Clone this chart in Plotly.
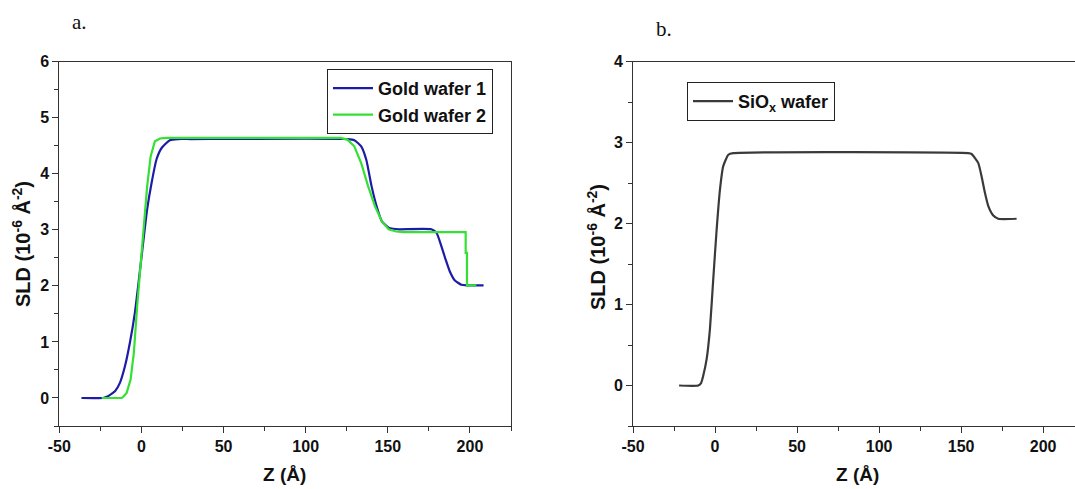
import plotly.graph_objects as go

# ---------------- data ----------------
z_gold1 = [-36.5, -23.4, -21.2, -16.1, -13.1, -10.0, -7.0, -4.0, -1.5, 1.1, 3.5, 6.2, 9.2, 12.3, 17.3,
           22.4, 30.0, 125.4, 129.6, 133.8, 136.9, 140.1, 143.2, 146.4, 150.5, 153.2, 156.8, 176.5,
           179.6, 182.6, 185.2, 187.7, 190.7, 194.8, 198.0, 208.3]
sld_gold1 = [0, 0, 0.02, 0.12, 0.27, 0.57, 0.99, 1.52, 2.12, 2.78, 3.37, 3.84, 4.26, 4.46, 4.60,
             4.62, 4.62, 4.62, 4.60, 4.49, 4.25, 3.78, 3.42, 3.15, 3.04, 3.02, 3.01, 3.01,
             2.95, 2.71, 2.47, 2.26, 2.10, 2.02, 2.01, 2.01]

z_gold2 = [-24.2, -12.0, -10.8, -9.0, -6.6, -4.6, -2.6, -0.5, 1.5, 3.5, 5.6, 8.2, 11.3, 15.0, 121.2,
           125.4, 129.6, 133.8, 138.0, 142.2, 146.4, 150.5, 155.0, 160.0, 197.4, 197.4, 198.2, 198.2, 203.9]
sld_gold2 = [0, 0, 0.03, 0.09, 0.33, 0.81, 1.64, 2.35, 3.07, 3.78, 4.31, 4.58, 4.63, 4.64, 4.64,
             4.61, 4.49, 4.19, 3.78, 3.42, 3.15, 3.01, 2.97, 2.96, 2.96, 2.59, 2.59, 2.01, 2.01]

z_siox = [-21.9, -10.2, -8.5, -7.2, -5.1, -3.1, -1.1, 1.0, 3.0, 5.0, 8.1, 11.1, 154.3, 156.4,
          160.4, 162.5, 164.5, 166.5, 169.6, 172.6, 183.8]
sld_siox = [0, 0, 0.03, 0.12, 0.33, 0.70, 1.31, 1.93, 2.42, 2.71, 2.85, 2.87, 2.87, 2.86,
            2.75, 2.58, 2.38, 2.22, 2.10, 2.06, 2.06]

x_tickvals = [-50, 0, 50, 100, 150, 200]
x_ticktext = ["-50", "0", "50", "100", "150", "200"]
x_minor = [-25, 25, 75, 125, 175, 225]
ya_tickvals = [0, 1, 2, 3, 4, 5, 6]
ya_minor = [-0.5, 0.5, 1.5, 2.5, 3.5, 4.5, 5.5]
yb_tickvals = [0, 1, 2, 3, 4]
yb_minor = [-0.5, 0.5, 1.5, 2.5, 3.5]

# ---------------- figure ----------------
W, H = 1075, 489
fig = go.Figure()

fig.add_trace(go.Scatter(x=z_gold1, y=sld_gold1, mode="lines", name="Gold wafer 1",
                         line=dict(color="#1c1ca6", width=2.2, shape="spline", smoothing=0.5),
                         xaxis="x", yaxis="y", legend="legend"))
fig.add_trace(go.Scatter(x=z_gold2, y=sld_gold2, mode="lines", name="Gold wafer 2",
                         line=dict(color="#33e033", width=2.2),
                         xaxis="x", yaxis="y", legend="legend"))
fig.add_trace(go.Scatter(x=z_siox, y=sld_siox, mode="lines", name="SiO<sub>x</sub> wafer",
                         line=dict(color="#3a3a3a", width=2.2, shape="spline", smoothing=0.5),
                         xaxis="x2", yaxis="y2", legend="legend2"))

y_dom = [(H - 426) / H, (H - 61.7) / H]
tickfont = dict(family="Liberation Sans, Arial, sans-serif", size=16, color="#111", weight="bold")
axcommon = dict(showgrid=False, zeroline=False, showline=True, linecolor="#333", linewidth=1,
                ticks="outside", ticklen=6, tickwidth=1, tickcolor="#333", tickfont=tickfont,
                automargin=False)

fig.update_layout(
    template="none",
    width=W, height=H,
    margin=dict(l=0, r=0, t=0, b=0, pad=0, autoexpand=False),
    paper_bgcolor="white", plot_bgcolor="white",
    showlegend=True,
    xaxis=dict(domain=[59.3 / W, 511 / W], range=[-50, 225], anchor="y", mirror=True,
               tickvals=x_tickvals, ticktext=x_ticktext,
               minor=dict(tickvals=x_minor, ticks="outside", ticklen=4, tickcolor="#333"),
               **axcommon),
    yaxis=dict(domain=y_dom, range=[-0.5, 6], anchor="x", mirror=True,
               tickvals=ya_tickvals,
               minor=dict(tickvals=ya_minor, ticks="outside", ticklen=4, tickcolor="#333"),
               **axcommon),
    xaxis2=dict(domain=[633 / W, 1.0], range=[-50, 219.4], anchor="y2", mirror=True,
                tickvals=x_tickvals, ticktext=x_ticktext,
                minor=dict(tickvals=x_minor, ticks="outside", ticklen=4, tickcolor="#333"),
                **axcommon),
    yaxis2=dict(domain=y_dom, range=[-0.5, 4], anchor="x2", mirror=False,
                tickvals=yb_tickvals,
                minor=dict(tickvals=yb_minor, ticks="outside", ticklen=4, tickcolor="#333"),
                **axcommon),
    legend=dict(x=327 / W, y=(H - 69) / H, xanchor="left", yanchor="top",
                bordercolor="#222", borderwidth=1, bgcolor="white",
                font=dict(family="Liberation Sans, Arial, sans-serif", size=18, color="#111", weight="bold"),
                tracegroupgap=0, itemwidth=40),
    legend2=dict(x=687 / W, y=(H - 82) / H, xanchor="left", yanchor="top",
                 bordercolor="#222", borderwidth=1, bgcolor="white",
                 font=dict(family="Liberation Sans, Arial, sans-serif", size=18, color="#111", weight="bold"),
                 itemwidth=40),
)

titlefont = dict(family="Liberation Sans, Arial, sans-serif", size=19, color="#111", weight="bold")
sldfont = dict(family="Liberation Sans, Arial, sans-serif", size=20, color="#111", weight="bold")
anns = [
    dict(text="Z (Å)", x=284 / W, y=(H - 474) / H, font=titlefont, textangle=0),
    dict(text="Z (Å)", x=857 / W, y=(H - 474) / H, font=titlefont, textangle=0),
    dict(text="SLD (10<sup>-6</sup> Å<sup>-2</sup>)", x=22 / W, y=(H - 244) / H, font=sldfont, textangle=-90),
    dict(text="SLD (10<sup>-6</sup> Å<sup>-2</sup>)", x=596 / W, y=(H - 247) / H, font=sldfont, textangle=-90),
    dict(text="a.", x=79 / W, y=(H - 22) / H,
         font=dict(family="Liberation Serif, Times New Roman, serif", size=21, color="#111"), textangle=0),
    dict(text="b.", x=664 / W, y=(H - 29) / H,
         font=dict(family="Liberation Serif, Times New Roman, serif", size=21, color="#111"), textangle=0),
]
for a in anns:
    fig.add_annotation(xref="paper", yref="paper", xanchor="center", yanchor="middle",
                       showarrow=False, **a)

fig.write_html("out.html", config={"displayModeBar": False},
               post_script="document.body.style.margin='0';document.body.style.overflow='hidden';")
